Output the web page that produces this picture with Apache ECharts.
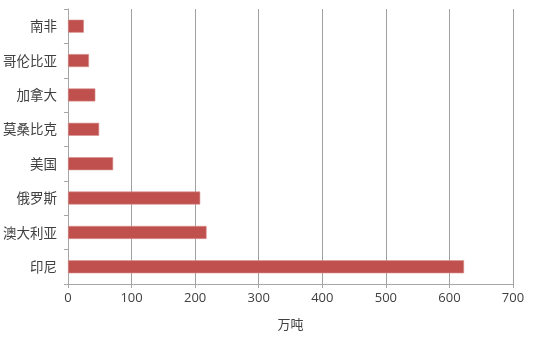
<!DOCTYPE html>
<html><head><meta charset="utf-8">
<script src="https://cdn.jsdelivr.net/npm/echarts@6/dist/echarts.min.js"></script>
<style>html,body{margin:0;padding:0;background:#fff}#c{width:534px;height:342px}</style>
</head><body><div id="c"></div>
<script>
const categories = ['印尼','澳大利亚','俄罗斯','美国','莫桑比克','加拿大','哥伦比亚','南非'];
const values = [623, 218, 208, 71, 49, 43, 33, 25];
const xTicks = [0, 100, 200, 300, 400, 500, 600, 700];
const axisName = '万吨';

const chart = echarts.init(document.getElementById('c'));
chart.setOption({
  animation: false,
  grid: {left: 68, right: 21, top: 9, bottom: 58, containLabel: false},
  xAxis: {
    type: 'value', min: xTicks[0], max: xTicks[xTicks.length-1], interval: 100,
    name: axisName, nameLocation: 'middle', nameGap: 34,
    nameTextStyle: {fontFamily: 'Noto Sans CJK SC', fontSize: 13, color: '#404040'},
    axisLine: {show: true, lineStyle: {color: '#a6a6a6', width: 1}},
    axisTick: {show: true, length: 4, lineStyle: {color: '#a6a6a6'}},
    axisLabel: {fontFamily: 'Open Sans', fontSize: 13, color: '#404040', margin: 8},
    splitLine: {show: true, lineStyle: {color: '#a0a0a0', width: 1}}
  },
  yAxis: {
    type: 'category', data: categories,
    axisLine: {show: true, lineStyle: {color: '#a6a6a6', width: 1}},
    axisTick: {show: true, length: 4, lineStyle: {color: '#a6a6a6'}},
    axisLabel: {fontFamily: 'Noto Sans CJK SC', fontSize: 13.5, color: '#404040', margin: 11},
    splitLine: {show: false}
  },
  series: [{
    type: 'bar', data: values, barWidth: 13,
    itemStyle: {color: '#C0504D', borderColor: '#d9928f', borderWidth: 0.6}
  }]
});
</script></body></html>
